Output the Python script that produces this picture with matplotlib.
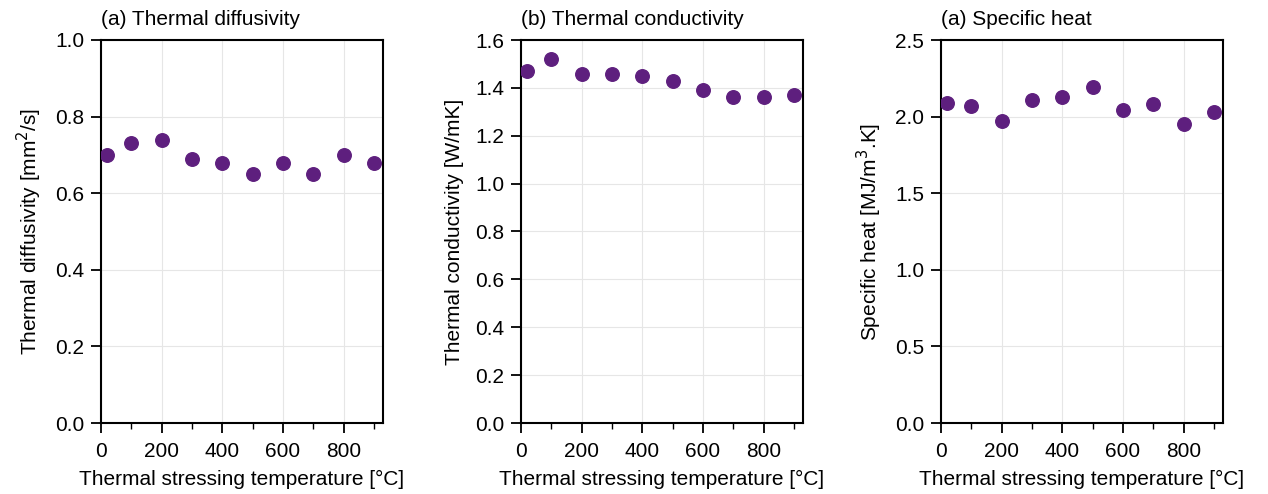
import numpy as np
import matplotlib.pyplot as plt
from matplotlib.ticker import MultipleLocator

plt.rcParams['font.family'] = ['Liberation Sans', 'DejaVu Sans']
plt.rcParams['font.size'] = 15

# 데이터
temps = [20, 100, 200, 300, 400, 500, 600, 700, 800, 900]
diffusivity = [0.70, 0.73, 0.74, 0.69, 0.68, 0.65, 0.68, 0.65, 0.70, 0.68]
conductivity = [1.47, 1.52, 1.46, 1.46, 1.45, 1.43, 1.39, 1.36, 1.36, 1.37]
specific_heat = [2.09, 2.07, 1.97, 2.11, 2.13, 2.19, 2.04, 2.08, 1.95, 2.03]

titles = ['(a) Thermal diffusivity', '(b) Thermal conductivity', '(a) Specific heat']
ylabels = ['Thermal diffusivity [mm$^2$/s]', 'Thermal conductivity [W/mK]',
           'Specific heat [MJ/m$^3$.K]']
series = [diffusivity, conductivity, specific_heat]
ylims = [(0, 1.0), (0, 1.6), (0, 2.5)]
ysteps = [0.2, 0.2, 0.5]

fig = plt.figure(figsize=(12.68, 4.94), dpi=100)
lefts = [101, 521, 941]
W, H = 1268, 494

for i in range(3):
    ax = fig.add_axes([lefts[i] / W, (H - 423) / H, 282 / W, 383 / H])
    ax.scatter(temps, series[i], s=95, color='#5e1f7e', zorder=3)
    ax.set_xlim(0, 930)
    ax.set_ylim(*ylims[i])
    ax.xaxis.set_major_locator(MultipleLocator(200))
    ax.xaxis.set_minor_locator(MultipleLocator(100))
    ax.yaxis.set_major_locator(MultipleLocator(ysteps[i]))
    ax.yaxis.set_major_formatter(plt.FormatStrFormatter('%.1f'))
    ax.grid(True, color='#e6e6e6', linewidth=0.8, zorder=0)
    ax.tick_params(direction='out', length=7, width=1.3, labelsize=15, pad=5)
    ax.tick_params(axis='x', pad=7)
    ax.tick_params(which='minor', direction='out', length=4, width=1.0)
    for s in ax.spines.values():
        s.set_linewidth(1.5)
    ax.set_xlabel('Thermal stressing temperature [°C]', fontsize=15, labelpad=6)
    ax.set_ylabel(ylabels[i], fontsize=15, labelpad=8)
    ax.set_title(titles[i], loc='left', fontsize=15, pad=11)

plt.savefig('out.png', dpi=100)
plt.close()
